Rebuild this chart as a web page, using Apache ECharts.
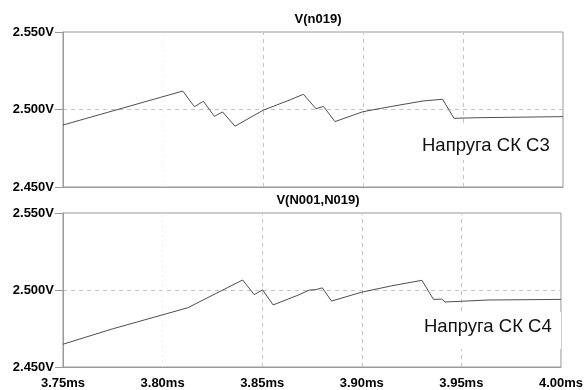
<!DOCTYPE html>
<html>
<head>
<meta charset="utf-8">
<script src="https://cdn.jsdelivr.net/npm/echarts@6/dist/echarts.min.js"></script>
<style>html,body{margin:0;padding:0;background:#fff}#c{width:586px;height:390px}</style>
</head>
<body>
<div id="c"></div>
<script>
// Top trace: V(n019)
const topTitle = 'V(n019)';
const topX = [3.75, 3.8099, 3.8157, 3.8202, 3.8257, 3.8298, 3.836, 3.85, 3.8635, 3.8702, 3.8765, 3.8802, 3.886, 3.90, 3.9135, 3.930, 3.9398, 3.9455, 3.9575, 4.00];
const topY = [2.4900, 2.5119, 2.5018, 2.5053, 2.4956, 2.4984, 2.4892, 2.4995, 2.5062, 2.5098, 2.5005, 2.5020, 2.4922, 2.4986, 2.5018, 2.5055, 2.5066, 2.4943, 2.4947, 2.4954];
const topLabel = 'Напруга СК C3';

// Bottom trace: V(N001,N019)
const botTitle = 'V(N001,N019)';
const botX = [3.75, 3.775, 3.8127, 3.8402, 3.846, 3.8502, 3.8555, 3.8685, 3.8735, 3.877, 3.8802, 3.8848, 3.90, 3.915, 3.9302, 3.936, 3.9402, 3.9418, 3.9502, 3.9635, 4.00];
const botY = [2.4648, 2.4748, 2.4885, 2.5065, 2.4970, 2.5001, 2.4903, 2.4969, 2.4999, 2.5003, 2.5014, 2.4928, 2.4986, 2.5027, 2.5063, 2.4939, 2.4941, 2.4922, 2.4927, 2.4935, 2.4939];
const botLabel = 'Напруга СК C4';

// Axis ticks
const xMin = 3.75, xMax = 4.00, xStep = 0.05;
const yMin = 2.45, yMax = 2.55, yStep = 0.05;
const gridXDashed = [3.85, 3.90, 3.95];
const gridXFaint = [3.80];

const FONT = '"Liberation Sans", Arial, sans-serif';
const pair = (xs, ys) => xs.map((x, i) => [x, ys[i]]);

function xAxisCfg(gridIndex, showLabels) {
  return {
    type: 'value', gridIndex, min: xMin, max: xMax, interval: xStep,
    axisLine: { show: true, lineStyle: { color: '#999', width: 1 } },
    axisTick: { show: false },
    axisLabel: {
      show: showLabels, margin: 10, color: '#000', fontFamily: FONT, fontWeight: 'bold', fontSize: 13,
      showMinLabel: true, showMaxLabel: true, hideOverlap: false,
      formatter: v => v.toFixed(2) + 'ms'
    },
    splitLine: { show: false }
  };
}
function yAxisCfg(gridIndex) {
  return {
    type: 'value', gridIndex, min: yMin, max: yMax, interval: yStep,
    axisLine: { show: true, lineStyle: { color: '#999', width: 1 } },
    axisTick: { show: true, length: 8, lineStyle: { color: '#999' } },
    axisLabel: {
      margin: 9, color: '#000', fontFamily: FONT, fontWeight: 'bold', fontSize: 13,
      formatter: v => v.toFixed(3) + 'V'
    },
    splitLine: {
      show: true, showMinLine: false, showMaxLine: false,
      lineStyle: { color: '#c4c4c4', type: [4, 4], width: 1 }
    }
  };
}

function gridMarkLines() {
  return {
    silent: true, symbol: 'none', label: { show: false },
    data: [
      ...gridXDashed.map(v => ({ xAxis: v, lineStyle: { color: '#c4c4c4', type: [4, 4], width: 1 } })),
      ...gridXFaint.map(v => ({ xAxis: v, lineStyle: { color: '#f0f0f0', type: [2, 3], width: 1 } }))
    ],
    z: 1
  };
}

function labelBox(text, top, baselineY, textX) {
  return {
    type: 'group',
    children: [
      { type: 'rect', shape: { x: 412, y: top, width: 149, height: 37 }, style: { fill: '#fff' }, z: 10 },
      { type: 'text', x: textX, y: baselineY, style: { text, font: '18.5px ' + FONT, fill: '#111', textVerticalAlign: 'bottom' }, z: 11 }
    ]
  };
}

const chart = echarts.init(document.getElementById('c'), null, { renderer: 'canvas' });
chart.setOption({
  animation: false,
  backgroundColor: '#fff',
  title: [
    { text: topTitle, left: 313, top: 8, textAlign: 'center', textStyle: { fontFamily: FONT, fontWeight: 'bold', fontSize: 13, color: '#000' } },
    { text: botTitle, left: 313, top: 189, textAlign: 'center', textStyle: { fontFamily: FONT, fontWeight: 'bold', fontSize: 13, color: '#000' } }
  ],
  grid: [
    { left: 63, width: 500, top: 32, height: 155, show: true, borderColor: '#999', borderWidth: 1, backgroundColor: 'transparent' },
    { left: 63, width: 500, top: 213, height: 155, show: true, borderColor: '#999', borderWidth: 1, backgroundColor: 'transparent' }
  ],
  xAxis: [xAxisCfg(0, false), xAxisCfg(1, true)],
  yAxis: [yAxisCfg(0), yAxisCfg(1)],
  series: [
    { type: 'line', xAxisIndex: 0, yAxisIndex: 0, data: pair(topX, topY), showSymbol: false, lineStyle: { color: '#3a3a3a', width: 0.9 }, z: 5, markLine: gridMarkLines() },
    { type: 'line', xAxisIndex: 1, yAxisIndex: 1, data: pair(botX, botY), showSymbol: false, lineStyle: { color: '#3a3a3a', width: 0.9 }, z: 5, markLine: gridMarkLines() }
  ],
  graphic: [
    labelBox(topLabel, 123, 155, 422),
    labelBox(botLabel, 312, 336, 424)
  ]
});
</script>
</body>
</html>
